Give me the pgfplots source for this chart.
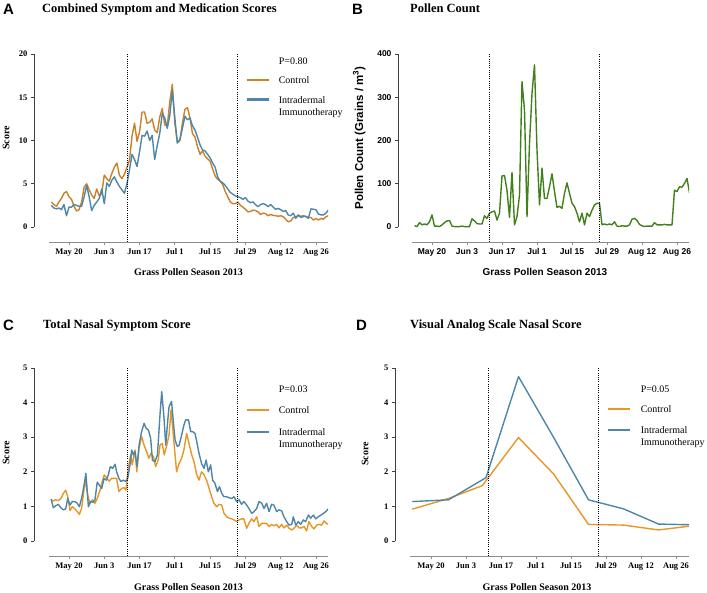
\documentclass[border=0pt]{standalone}
\usepackage{fontspec}
\setmainfont{Liberation Serif}
\setsansfont{Liberation Sans}
\usepackage{pgfplots}
\pgfplotsset{compat=1.18}

\definecolor{ctrlA}{RGB}{204,128,40}
\definecolor{ctrlC}{RGB}{232,150,38}
\definecolor{idit}{RGB}{78,134,168}
\definecolor{pollen}{RGB}{66,128,28}

\newcommand{\twoline}[2]{\begin{tabular}[t]{@{}l@{}}#1\\#2\end{tabular}}

\pgfplotsset{
  panel/.style={
    scale only axis, width=294pt, height=188pt,
    axis x line*=bottom, axis y line*=left,
    x axis line style={-, black!45, line width=1pt, shorten <=15pt},
    y axis line style={-, black!75, line width=0.8pt, shorten <=15pt},
    tick align=outside, major tick length=3pt,
    xtick={0,14,28,42,56,70,84,98},
    xticklabels={May 20,Jun 3,Jun 17,Jul 1,Jul 15,Jul 29,Aug 12,Aug 26},
    x tick style={black!45, line width=0.8pt},
    y tick style={black!75, line width=0.8pt},
    /pgf/number format/assume math mode=true,
    tick label style={font=\fontsize{8.5}{10}\selectfont\bfseries},
    label style={font=\fontsize{10}{12}\selectfont\bfseries},
    legend style={draw=none, fill=none, inner sep=0pt, anchor=north west,
      font=\fontsize{10}{12}\selectfont, cells={anchor=base west},
      row sep=6pt, /tikz/every odd column/.append style={column sep=7pt}},
    legend image code/.code={\draw[#1, line width=2.6pt] (0pt,3.3pt) -- (22pt,3.3pt);},
  },
  vline/.style={black, line width=0.7pt, dash pattern=on 0.9pt off 1.3pt, forget plot},
  series/.style={line width=1.4pt, line join=round},
}

\begin{document}
\begin{tikzpicture}
\useasboundingbox (0,0) rectangle (707pt,-592pt);

% ---------------- A ----------------
\begin{axis}[panel, at={(34pt,-242pt)}, anchor=south west,
  xmin=-13.89, xmax=102.78, ymin=-1.734, ymax=20, ytick={0,5,10,15,20},
  xlabel={Grass Pollen Season 2013}, ylabel={Score},
  xlabel style={at={(axis description cs:0.5255,-0.16)}, anchor=center},
  ylabel style={at={(axis description cs:-0.0714,0.553)}, anchor=south},
  legend style={at={(axis description cs:0.7177,0.99)}}]
\addlegendimage{empty legend}\addlegendentry{P=0.80}
\addplot[series, ctrlA] coordinates {
(-7,2.9)(-6,2.6)(-5,2.4)(-4,2.9)(-3,3.3)(-2,3.9)(-1,4.1)(0,3.5)(1,3.2)(2,2.4)(3,1.85)(4,2.0)(5,2.9)(6,4.6)(7,5.0)(8,4.3)(9,3.7)(10,3.3)(11,4.4)(12,3.6)(13,3.9)(14,6.0)(15,5.6)(16,5.3)(17,6.2)(18,6.9)(19,7.4)(20,6.0)(21,5.6)(22,6.1)(23,6.9)(24,7.7)(25,10.5)(26,12.0)(27,9.9)(28,11.0)(29,13.3)(30,13.3)(31,12.0)(32,12.1)(33,12.5)(34,11.2)(35,10.9)(36,12.7)(37,13.7)(38,11.8)(39,11.7)(40,14.5)(41,16.5)(42,12.0)(43,9.8)(44,10.0)(45,12.0)(46,13.6)(47,13.8)(48,12.6)(49,10.8)(50,10.4)(51,9.3)(52,8.4)(53,8.8)(54,8.2)(55,7.9)(56,7.6)(57,6.7)(58,5.9)(59,5.5)(60,5.3)(61,4.9)(62,4.1)(63,3.5)(64,2.9)(65,2.7)(66,2.7)(67,2.9)(68,2.5)(69,2.3)(70,2.05)(71,1.75)(72,1.8)(73,1.95)(74,1.9)(75,1.75)(76,1.45)(77,1.6)(78,1.55)(79,1.3)(80,1.45)(81,1.35)(82,1.3)(83,1.25)(84,1.3)(85,1.2)(86,0.9)(87,0.6)(88,0.7)(89,1.1)(90,1.2)(91,1.3)(92,1.25)(93,1.3)(94,1.2)(95,1.1)(96,1.1)(97,0.8)(98,1.0)(99,0.8)(100,1.0)(101,0.9)(102,1.2)(103,1.3)
};
\addlegendentry{Control}
\addplot[series, idit] coordinates {
(-7,2.5)(-6,2.2)(-5,2.1)(-4,2.2)(-3,2.0)(-2,2.6)(-1,1.3)(0,2.3)(1,2.3)(2,2.6)(3,2.5)(4,2.4)(5,2.4)(6,3.5)(7,4.8)(8,3.5)(9,1.9)(10,2.5)(11,2.9)(12,3.3)(13,4.4)(14,2.7)(15,5.1)(16,4.7)(17,5.4)(18,5.8)(19,5.2)(20,4.7)(21,4.3)(22,3.9)(23,5.0)(24,6.6)(25,8.4)(26,7.8)(27,7.0)(28,8.7)(29,10.6)(30,10.5)(31,11.1)(32,10.0)(33,10.6)(34,7.8)(35,9.4)(36,10.8)(37,13.1)(38,12.6)(39,11.4)(40,12.9)(41,15.8)(42,12.6)(43,9.7)(44,10.1)(45,11.4)(46,12.8)(47,12.4)(48,12.6)(49,11.7)(50,11.2)(51,10.4)(52,9.5)(53,8.9)(54,8.8)(55,8.4)(56,8.0)(57,7.4)(58,6.9)(59,5.8)(60,5.3)(61,5.1)(62,4.8)(63,4.4)(64,4.0)(65,3.8)(66,3.6)(67,3.5)(68,3.4)(69,3.2)(70,3.4)(71,3.0)(72,2.8)(73,2.9)(74,2.6)(75,2.35)(76,2.6)(77,2.7)(78,2.6)(79,2.35)(80,2.6)(81,2.3)(82,2.05)(83,2.15)(84,2.0)(85,1.8)(86,1.9)(87,1.4)(88,1.3)(89,1.6)(90,1.0)(91,1.4)(92,1.1)(93,1.2)(94,1.25)(95,1.0)(96,2.1)(97,2.05)(98,2.0)(99,1.5)(100,1.4)(101,1.4)(102,1.6)(103,2.0)
};
\addlegendentry{\twoline{Intradermal}{Immunotherapy}}
\addplot[vline] coordinates {(23,-1.734)(23,20)};
\addplot[vline] coordinates {(67,-1.734)(67,20)};
\end{axis}

% ---------------- B ----------------
\begin{axis}[panel, width=291pt, at={(398pt,-242pt)}, anchor=south west,
  x axis line style={shorten <=14pt},
  xmin=-13.6, xmax=102.8, ymin=-34.7, ymax=400, ytick={0,100,200,300,400},
  tick label style={font=\sffamily\fontsize{8.5}{10}\selectfont\bfseries},
  xlabel style={font=\sffamily\fontsize{10}{12}\selectfont\bfseries},
  ylabel style={font=\sffamily\fontsize{11.5}{13}\selectfont\bfseries},
  xlabel={Grass Pollen Season 2013}, ylabel={Pollen Count (Grains / m\textsuperscript{3})},
  xlabel style={at={(axis description cs:0.505,-0.158)}, anchor=center},
  ylabel style={at={(axis description cs:-0.0997,0.553)}, anchor=south}]
\addplot[series, pollen] coordinates {
(-7,3)(-6,1)(-5,10)(-4,5)(-3,7)(-2,5)(-1,12)(0,28)(1,2)(2,2)(3,1)(4,5)(5,10)(6,14)(7,15)(8,2)(9,1)(10,1)(11,1)(12,2)(13,1)(14,1)(15,1)(16,19)(17,14)(18,8)(19,7)(20,7)(21,26)(22,20)(23,32)(24,35)(25,37)(26,16)(27,32)(28,118)(29,119)(30,85)(31,22)(32,126)(33,5)(34,24)(35,74)(36,336)(37,270)(38,24)(39,193)(40,309)(41,375)(42,178)(43,51)(44,136)(45,66)(46,66)(47,93)(48,123)(49,82)(50,45)(51,48)(52,43)(53,78)(54,102)(55,78)(56,55)(57,47)(58,32)(59,12)(60,32)(61,5)(62,32)(63,24)(64,39)(65,51)(66,55)(67,55)(68,5)(69,7)(70,5)(71,7)(72,5)(73,12)(74,2)(75,1)(76,3)(77,2)(78,2)(79,5)(80,18)(81,20)(82,15)(83,6)(84,3)(85,1)(86,2)(87,2)(88,2)(89,10)(90,5)(91,5)(92,5)(93,6)(94,5)(95,5)(96,5)(97,85)(98,82)(99,93)(100,92)(101,101)(102,112)(103,79)
};
\addplot[vline] coordinates {(23,-34.7)(23,400)};
\addplot[vline] coordinates {(67,-34.7)(67,400)};
\end{axis}

% ---------------- C ----------------
\begin{axis}[panel, at={(34pt,-556pt)}, anchor=south west,
  xmin=-13.89, xmax=102.78, ymin=-0.4335, ymax=5, ytick={0,1,2,3,4,5},
  xlabel={Grass Pollen Season 2013}, ylabel={Score},
  xlabel style={at={(axis description cs:0.5255,-0.165)}, anchor=center},
  ylabel style={at={(axis description cs:-0.0714,0.548)}, anchor=south},
  legend style={at={(axis description cs:0.7177,0.915)}, row sep=8pt}]
\addlegendimage{empty legend}\addlegendentry{P=0.03}
\addplot[series, ctrlC] coordinates {
(-7.1,1.19)(-6.2,1.16)(-5.3,1.19)(-4.2,1.17)(-3.2,1.23)(-2.2,1.38)(-1.3,1.47)(-0.5,1.28)(0.4,0.88)(1.3,0.99)(2.4,0.93)(3.3,0.85)(4.1,0.77)(5.0,0.94)(6.0,1.52)(6.6,1.76)(7.4,1.33)(8.3,1.09)(9.3,1.19)(10.3,1.09)(11.2,1.23)(12.3,1.47)(13.2,1.72)(14.0,1.91)(14.9,1.83)(15.9,1.73)(16.9,1.81)(18.0,1.81)(18.9,1.81)(19.8,1.43)(20.9,1.52)(21.8,1.54)(22.6,1.47)(23.5,2.10)(24.5,2.49)(25.1,2.20)(26.2,2.63)(26.9,2.00)(27.8,2.68)(28.8,3.02)(29.8,2.77)(30.8,2.58)(31.7,2.39)(32.5,2.53)(33.5,2.44)(34.4,2.15)(35.4,2.34)(36.1,2.77)(37.0,2.82)(37.8,2.49)(38.8,2.77)(39.7,3.06)(40.5,3.79)(41.4,3.06)(42.7,2.00)(43.7,2.24)(44.7,2.39)(45.6,2.63)(46.7,3.11)(47.6,2.82)(48.7,2.49)(49.6,2.29)(50.7,1.91)(51.6,1.76)(52.6,2.00)(53.6,1.91)(54.6,1.76)(55.6,1.52)(56.6,1.28)(57.5,1.09)(58.6,0.99)(59.5,1.06)(60.6,1.04)(61.5,0.80)(62.6,0.70)(63.5,0.66)(64.6,0.64)(65.5,0.61)(66.5,0.56)(67.5,0.61)(68.5,0.64)(69.4,0.64)(70.5,0.37)(71.4,0.51)(72.5,0.64)(73.4,0.56)(74.5,0.70)(75.4,0.42)(76.5,0.51)(77.4,0.51)(78.4,0.51)(79.4,0.42)(80.4,0.48)(81.3,0.44)(82.4,0.48)(83.3,0.38)(84.4,0.48)(85.3,0.38)(86.4,0.46)(87.3,0.37)(88.4,0.32)(89.3,0.37)(90.3,0.46)(91.3,0.38)(92.3,0.38)(93.3,0.42)(94.3,0.29)(95.2,0.56)(96.3,0.42)(97.2,0.35)(98.3,0.46)(99.2,0.48)(100.3,0.46)(101.2,0.58)(102.2,0.51)(102.9,0.48)
};
\addlegendentry{Control}
\addplot[series, idit] coordinates {
(-7.1,1.21)(-6.2,0.96)(-5.3,1.02)(-4.2,1.06)(-3.2,0.96)(-2.2,0.90)(-1.3,0.93)(-0.5,1.23)(0.4,1.04)(1.3,1.14)(2.4,1.14)(3.3,1.09)(4.1,0.99)(5.0,1.23)(6.0,1.62)(6.7,1.96)(7.7,0.99)(8.6,1.14)(9.5,1.12)(10.3,1.19)(11.2,1.70)(12.0,1.62)(13.0,1.52)(13.9,1.81)(14.8,1.76)(15.6,1.91)(16.4,2.15)(17.3,2.10)(18.3,2.22)(18.9,2.00)(19.8,1.81)(20.6,1.72)(21.6,1.76)(22.5,1.72)(23.3,1.81)(24.2,2.20)(24.9,2.63)(25.5,2.49)(26.2,2.58)(27.0,2.15)(27.8,2.77)(28.8,3.16)(29.8,3.40)(30.6,3.26)(31.5,3.21)(32.4,2.97)(33.1,2.34)(34.1,2.29)(35.1,2.49)(36.1,3.64)(36.8,4.32)(37.7,3.55)(38.4,2.77)(39.2,3.50)(39.7,3.88)(40.7,4.03)(41.4,3.45)(42.1,2.92)(43.0,2.73)(43.7,2.77)(44.7,3.06)(45.6,3.35)(46.3,3.50)(47.4,3.50)(48.3,3.16)(49.1,3.16)(50.0,3.11)(50.7,2.87)(51.6,2.53)(52.6,2.24)(53.6,2.10)(54.4,2.34)(55.3,2.00)(56.2,2.20)(57.0,1.76)(57.9,1.67)(58.9,1.43)(59.7,1.57)(60.6,1.38)(61.5,1.28)(62.6,1.28)(63.5,1.25)(64.6,1.23)(65.5,1.28)(66.5,1.14)(67.5,1.19)(68.5,1.06)(69.4,1.14)(70.5,1.04)(71.4,0.94)(72.5,0.80)(73.4,0.85)(74.5,0.94)(75.4,1.14)(76.5,1.09)(77.4,0.94)(78.4,1.09)(79.4,0.85)(80.4,1.06)(81.3,1.04)(82.4,0.85)(83.3,0.90)(84.4,0.87)(85.3,0.70)(86.4,0.56)(87.3,0.46)(88.4,0.48)(89.0,0.70)(90.0,0.46)(91.0,0.56)(91.9,0.48)(93.0,0.61)(93.9,0.56)(95.0,0.75)(95.9,0.66)(97.0,0.75)(97.9,0.64)(98.9,0.70)(100.0,0.75)(101.0,0.80)(101.9,0.85)(102.9,0.93)
};
\addlegendentry{\twoline{Intradermal}{Immunotherapy}}
\addplot[vline] coordinates {(23,-0.4335)(23,5)};
\addplot[vline] coordinates {(67,-0.4335)(67,5)};
\end{axis}

% ---------------- D ----------------
\begin{axis}[panel, at={(395pt,-556pt)}, anchor=south west,
  xmin=-14.4, xmax=103.2, ymin=-0.4335, ymax=5, ytick={0,1,2,3,4,5},
  xlabel={Grass Pollen Season 2013}, ylabel={Score},
  xlabel style={at={(axis description cs:0.483,-0.163)}, anchor=center},
  ylabel style={at={(axis description cs:-0.078,0.543)}, anchor=south},
  legend style={at={(axis description cs:0.721,0.915)}, row sep=7pt}]
\addlegendimage{empty legend}\addlegendentry{P=0.05}
\addplot[series, ctrlC] coordinates {
(-7.5,0.92)(7,1.23)(20.5,1.60)(35,2.99)(49,1.94)(63,0.48)(77,0.46)(91,0.32)(103.5,0.43)
};
\addlegendentry{Control}
\addplot[series, idit] coordinates {
(-7.5,1.14)(7,1.19)(22,1.83)(35,4.75)(49,3.0)(63,1.19)(77,0.93)(91,0.49)(103.5,0.47)
};
\addlegendentry{\twoline{Intradermal}{Immunotherapy}}
\addplot[vline] coordinates {(23,-0.4335)(23,5)};
\addplot[vline] coordinates {(67,-0.4335)(67,5)};
\end{axis}

% titles and panel letters
\begin{scope}[every node/.style={inner sep=0pt}]
\node[anchor=base west, font=\sffamily\bfseries\fontsize{15}{17}\selectfont] at (3pt,-14.5pt) {A};
\node[anchor=base west, font=\sffamily\bfseries\fontsize{15}{17}\selectfont] at (352pt,-14.5pt) {B};
\node[anchor=base west, font=\sffamily\bfseries\fontsize{15}{17}\selectfont] at (3pt,-330.5pt) {C};
\node[anchor=base west, font=\sffamily\bfseries\fontsize{15}{17}\selectfont] at (356pt,-330.5pt) {D};
\node[anchor=base west, font=\bfseries\fontsize{12.5}{14}\selectfont] at (42pt,-12pt) {Combined Symptom and Medication Scores};
\node[anchor=base west, font=\bfseries\fontsize{12.5}{14}\selectfont] at (410pt,-12pt) {Pollen Count};
\node[anchor=base west, font=\bfseries\fontsize{12.5}{14}\selectfont] at (43pt,-328pt) {Total Nasal Symptom Score};
\node[anchor=base west, font=\bfseries\fontsize{12.5}{14}\selectfont] at (410pt,-328pt) {Visual Analog Scale Nasal Score};
\end{scope}
\end{tikzpicture}
\end{document}
